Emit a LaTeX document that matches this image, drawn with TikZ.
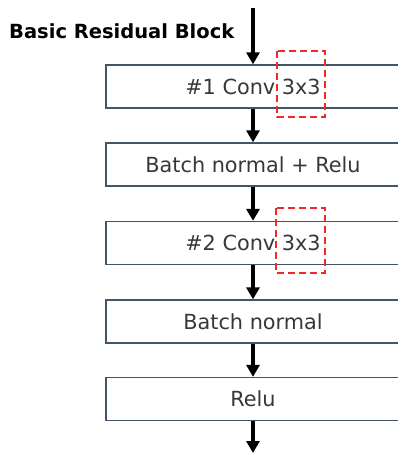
\documentclass[tikz,border=0pt]{standalone}
\usepackage{fontspec}
\setmainfont{DejaVu Sans}
\usetikzlibrary{arrows.meta}
\definecolor{boxline}{RGB}{68,84,106}
\definecolor{txt}{RGB}{55,55,55}
\definecolor{hl}{RGB}{240,40,40}
\tikzset{
  layer/.style={draw=boxline, line width=1.3pt, minimum width=294pt, minimum height=43pt,
    inner sep=0pt, font=\fontsize{20.8}{24}\selectfont, text=txt},
  flow/.style={line width=3.3pt, -{Triangle[width=13pt,length=12pt]}},
  kernel/.style={draw=hl, line width=1.3pt, dash pattern=on 7pt off 4pt}
}
\begin{document}
\begin{tikzpicture}[x=1pt,y=-1pt]
\useasboundingbox (0,0) rectangle (398,453);
\node[anchor=base west, inner sep=0pt, font=\bfseries\fontsize{19.5}{24}\selectfont] (title) at (9,38) {Basic Residual Block};
\coordinate (in) at (253,8);
\node[layer] (c1) at (253,86.5) {\#1 Conv 3x3};
\node[layer] (bn1) at (253,164.5) {Batch normal + Relu};
\node[layer] (c2) at (253,243) {\#2 Conv 3x3};
\node[layer] (bn2) at (253,321.5) {Batch normal};
\node[layer] (relu) at (253,399) {Relu};
\coordinate (out) at (253,453);
\draw[flow] (in) -- (c1.north);
\draw[flow] (c1.south) -- (bn1.north);
\draw[flow] (bn1.south) -- (c2.north);
\draw[flow] (c2.south) -- (bn2.north);
\draw[flow] (bn2.south) -- (relu.north);
\draw[flow] (relu.south) -- (out);
\draw[kernel] (277,51) rectangle (325,117);
\draw[kernel] (276,208) rectangle (325,273);
\end{tikzpicture}
\end{document}
